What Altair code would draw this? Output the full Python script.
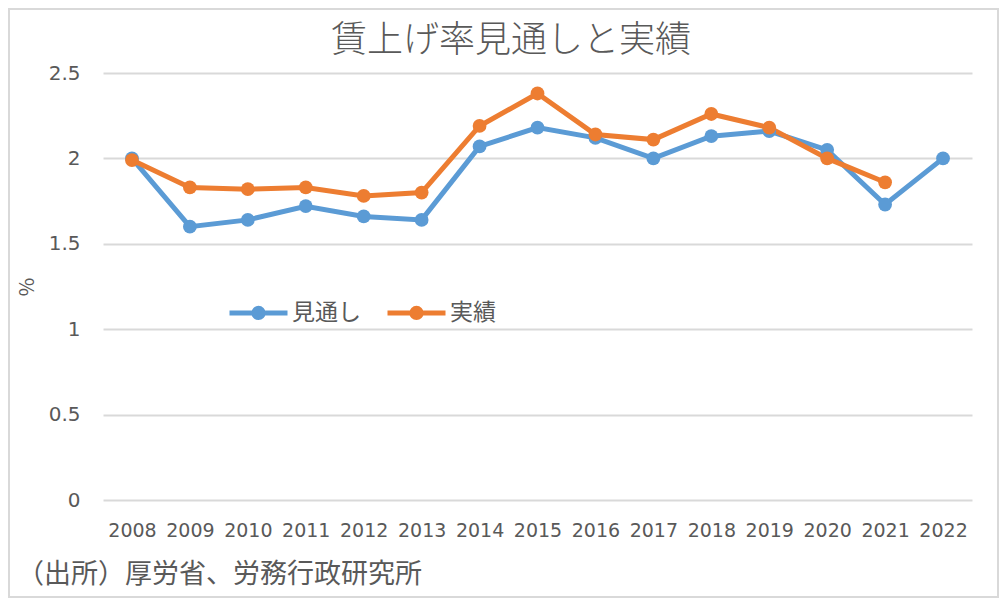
import altair as alt
import pandas as pd

years = [str(y) for y in range(2008, 2023)]
forecast = [2.00, 1.60, 1.64, 1.72, 1.66, 1.64, 2.07, 2.18, 2.12, 2.00, 2.13, 2.16, 2.05, 1.73, 2.00]
actual = [1.99, 1.83, 1.82, 1.83, 1.78, 1.80, 2.19, 2.38, 2.14, 2.11, 2.26, 2.18, 2.00, 1.86, None]
series_names = ["見通し", "実績"]
colors = ["#5B9BD5", "#ED7D31"]
title_text = "賃上げ率見通しと実績"
source_text = "（出所）厚労省、労務行政研究所"

rows = []
for y, f, a in zip(years, forecast, actual):
    rows.append({"year": y, "series": series_names[0], "value": f})
    if a is not None:
        rows.append({"year": y, "series": series_names[1], "value": a})
df = pd.DataFrame(rows)

W, H = 869, 427
FONT = "Noto Sans CJK JP"
NUMFONT = "DejaVu Sans"
GRAY = "#595959"

legend_path = "M-1,0H1M-0.16,0A0.16,0.16 0 1,1 0.16,0A0.16,0.16 0 1,1 -0.16,0Z"

base = alt.Chart(df).mark_line(
    strokeWidth=5,
    point=alt.OverlayMarkDef(filled=True, size=190),
).encode(
    x=alt.X("year:O", sort=years,
            scale=alt.Scale(type="point", padding=0.5),
            axis=alt.Axis(title=None, labelAngle=0, ticks=False, domain=False,
                          labelPadding=21, labelFontSize=19, labelColor=GRAY,
                          labelFont=NUMFONT, grid=False)),
    y=alt.Y("value:Q", scale=alt.Scale(domain=[0, 2.5]),
            axis=alt.Axis(title="%", values=[0, 0.5, 1, 1.5, 2, 2.5], format=".1~f",
                          ticks=False, domain=False, labelPadding=23,
                          labelFontSize=20, labelColor=GRAY, labelFont=NUMFONT,
                          titleFontSize=20, titleColor=GRAY, titleFont=FONT,
                          titleFontWeight="normal", titlePadding=11,
                          gridColor="#D9D9D9", gridWidth=2)),
    color=alt.Color("series:N", sort=series_names,
                    scale=alt.Scale(domain=series_names, range=colors),
                    legend=alt.Legend(title=None, orient="none", legendX=124, legendY=208,
                                      direction="horizontal",
                                      symbolType=legend_path, symbolSize=3364,
                                      symbolStrokeWidth=5, labelFontSize=23,
                                      labelFont=FONT, labelColor=GRAY,
                                      columnPadding=16, labelOffset=2)),
)

src = pd.DataFrame({"t": [source_text]})
source = alt.Chart(src).mark_text(
    align="left", baseline="middle", fontSize=27, font=FONT, color=GRAY
).encode(text="t:N", x=alt.value(-86), y=alt.value(H + 75))

ttl = pd.DataFrame({"t": [title_text]})
title = alt.Chart(ttl).mark_text(
    align="center", baseline="middle", fontSize=36, font=FONT, color=GRAY,
    fontWeight=300
).encode(text="t:N", x=alt.value(408), y=alt.value(-32))

border = alt.Chart(src).mark_rect(
    fill="transparent", stroke="#D9D9D9", strokeWidth=2
).encode(x=alt.value(-94), x2=alt.value(W + 26), y=alt.value(-64), y2=alt.value(H + 97))

chart = alt.layer(border, base, source, title).properties(
    width=W, height=H,
    padding={"left": 95, "top": 65, "right": 27, "bottom": 98},
    autosize=alt.AutoSizeParams(type="none"),
).configure_view(stroke=None)

chart.save("out.html", embed_options={"renderer": "svg", "actions": False})
